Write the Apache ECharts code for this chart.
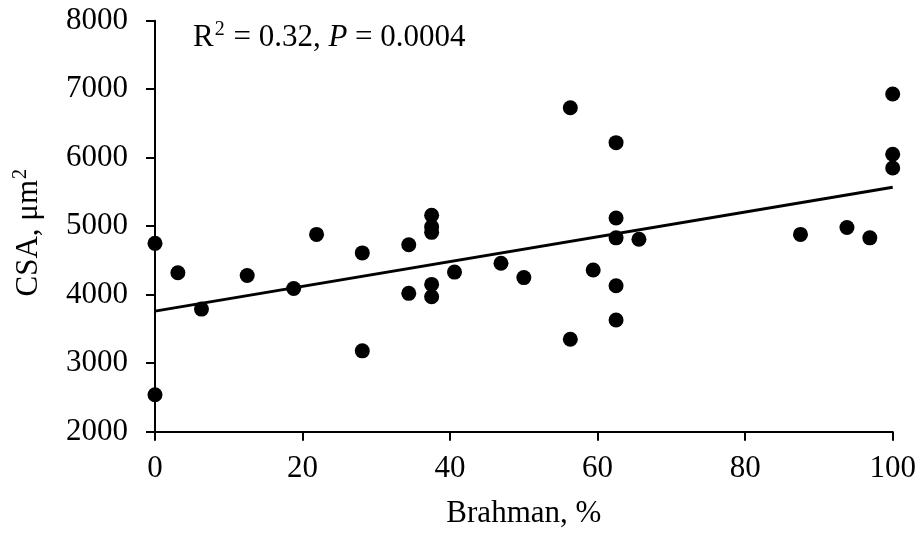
<!DOCTYPE html>
<html>
<head>
<meta charset="utf-8">
<script src="https://cdn.jsdelivr.net/npm/echarts@6/dist/echarts.min.js"></script>
<style>html,body{margin:0;padding:0;background:#fff}#c{width:920px;height:536px}</style>
</head>
<body>
<div id="c"></div>
<script>
const brahman = [0,0,3.1,6.3,12.5,18.8,21.9,28.1,28.1,34.4,34.4,37.5,37.5,37.5,37.5,37.5,40.6,46.9,50,56.3,56.3,59.4,62.5,62.5,62.5,62.5,62.5,65.6,87.5,93.8,96.9,100,100,100];
const csa = [4750,2540,4320,3790,4280,4090,4880,4610,3180,4730,4020,5160,4990,4910,4150,3970,4330,4460,4250,6730,3350,4360,6220,5120,4830,4130,3630,4810,4880,4980,4830,6930,6050,5850];
const trendX = [0, 100];
const trendY = [3760, 5570];
const xTicks = [0, 20, 40, 60, 80, 100];
const yTicks = [2000, 3000, 4000, 5000, 6000, 7000, 8000];

const FONT = 'Liberation Serif';
const FS = 31;
const chart = echarts.init(document.getElementById('c'), null, {renderer: 'canvas'});
const axisCommon = {
  axisLine: {show: true, onZero: false, lineStyle: {color: '#000', width: 2}},
  axisTick: {show: true, inside: false, length: 9, lineStyle: {color: '#000', width: 2}},
  splitLine: {show: false},
  axisLabel: {color: '#000', fontFamily: FONT, fontSize: FS, formatter: v => String(v)},
  nameTextStyle: {color: '#000', fontFamily: FONT, fontSize: FS}
};
const supStyle = {fontFamily: FONT, fontSize: 20, fontWeight: 'normal', color: '#000', verticalAlign: 'bottom', lineHeight: 20, padding: [0,1,13,1]};
chart.setOption({
  animation: false,
  backgroundColor: '#fff',
  title: {
    left: 188, top: 12,
    text: '{n|R}{s|2}{n| = 0.32, }{i|P}{n| = 0.0004}',
    textStyle: {
      fontWeight: 'normal',
      rich: {
        n: {fontFamily: FONT, fontSize: FS, fontWeight: 'normal', color: '#000', verticalAlign: 'bottom', lineHeight: 36},
        i: {fontFamily: FONT, fontSize: FS, fontWeight: 'normal', color: '#000', fontStyle: 'italic', verticalAlign: 'bottom', lineHeight: 36},
        s: supStyle
      }
    }
  },
  grid: {left: 155, right: 27.3, top: 20.7, bottom: 104.3, containLabel: false, outerBoundsMode: 'none'},
  xAxis: Object.assign({}, axisCommon, {
    type: 'value', min: xTicks[0], max: xTicks[xTicks.length-1], interval: 20,
    name: 'Brahman, %', nameLocation: 'middle', nameGap: 67,
    axisLabel: Object.assign({}, axisCommon.axisLabel, {margin: 22})
  }),
  yAxis: Object.assign({}, axisCommon, {
    type: 'value', min: yTicks[0], max: yTicks[yTicks.length-1], interval: 1000,
    name: '{n|CSA, μm}{s|2}', nameLocation: 'middle', nameGap: 111,
    nameTextStyle: {color: '#000', fontFamily: FONT, fontSize: FS, padding: [0, 12, 0, 0],
      rich: {
        n: {fontFamily: FONT, fontSize: FS, color: '#000', verticalAlign: 'bottom', lineHeight: 36},
        s: supStyle
      }},
    axisLabel: Object.assign({}, axisCommon.axisLabel, {margin: 27})
  }),
  series: [
    {
      type: 'line', data: trendX.map((x, i) => [x, trendY[i]]),
      symbol: 'none', lineStyle: {color: '#000', width: 3}, z: 2, silent: true
    },
    {
      type: 'scatter', data: brahman.map((x, i) => [x, csa[i]]),
      symbol: 'circle', symbolSize: 15, itemStyle: {color: '#000', opacity: 1}, z: 3, clip: false
    }
  ]
});
</script>
</body>
</html>
